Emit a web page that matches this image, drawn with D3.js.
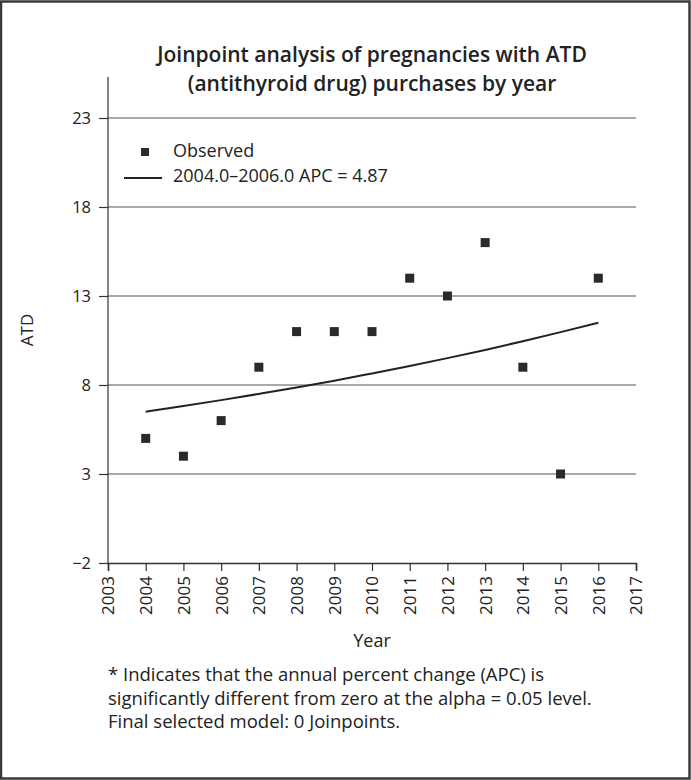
<!DOCTYPE html>
<html><head><meta charset="utf-8">
<script src="https://cdn.jsdelivr.net/npm/d3@7"></script>
<style>
html,body{margin:0;padding:0;background:#fff;}
svg{display:block;}
text{font-family:"Open Sans",sans-serif;fill:#222;}
</style></head>
<body>
<script>
const years = [2004,2005,2006,2007,2008,2009,2010,2011,2012,2013,2014,2015,2016];
const observed = [5,4,6,9,11,11,11,14,13,16,9,3,14];
const fitted = [6.5,6.82,7.15,7.5,7.86,8.24,8.65,9.07,9.51,9.97,10.46,10.97,11.5];
const xTicks = [2003,2004,2005,2006,2007,2008,2009,2010,2011,2012,2013,2014,2015,2016,2017];
const yTicks = [-2,3,8,13,18,23];
const titleLines = ["Joinpoint analysis of pregnancies with ATD","(antithyroid drug) purchases by year"];
const legendLabels = ["Observed","2004.0\u20132006.0 APC = 4.87"];
const footLines = ["* Indicates that the annual percent change (APC) is","significantly different from zero at the alpha = 0.05 level.","Final selected model: 0 Joinpoints."];

const W=691,H=780;
const svg=d3.select("body").append("svg").attr("width",W).attr("height",H);
svg.append("rect").attr("x",1).attr("y",1.5).attr("width",W-2.5).attr("height",H-3).attr("fill","#fff").attr("stroke","#3a3a3a").attr("stroke-width",2.5);

const x=d3.scaleLinear().domain([2003,2017]).range([108,636]);
const y=d3.scaleLinear().domain([-2,23]).range([563,118]);
const yTop=y(25.3);

// gridlines
svg.append("g").selectAll("line").data(yTicks.filter(d=>d>-2)).join("line")
 .attr("x1",x(2003)).attr("x2",x(2017)).attr("y1",d=>y(d)).attr("y2",d=>y(d))
 .attr("stroke","#8c8c8c").attr("stroke-width",1.4);

// y axis
const ya=svg.append("g").attr("transform",`translate(${x(2003)},0)`)
 .call(d3.axisLeft(y).tickValues(yTicks).tickSize(9).tickPadding(8).tickFormat(d=>d<0?"\u2212"+Math.abs(d):d));
ya.select(".domain").remove();
ya.selectAll("line").attr("stroke","#333").attr("stroke-width",1.2);
ya.selectAll("text").style("font-size","16.5px").attr("fill","#333");
svg.append("line").attr("x1",x(2003)).attr("x2",x(2003)).attr("y1",yTop).attr("y2",y(-2)).attr("stroke","#333").attr("stroke-width",1.2);

// x axis
const xa=svg.append("g").attr("transform",`translate(0,${y(-2)})`)
 .call(d3.axisBottom(x).tickValues(xTicks).tickSize(8).tickFormat(d3.format("d")));
xa.select(".domain").attr("stroke","#333").attr("stroke-width",1.6);
xa.selectAll("line").attr("stroke","#333").attr("stroke-width",1.2);
xa.selectAll("text").style("font-size","17px").attr("fill","#333")
 .attr("transform","rotate(-90)").attr("text-anchor","end").attr("x",-13).attr("y",0).attr("dy","0.35em");

// fitted line
svg.append("path").datum(years.map((d,i)=>[d,fitted[i]]))
 .attr("d",d3.line().x(d=>x(d[0])).y(d=>y(d[1])).curve(d3.curveMonotoneX))
 .attr("fill","none").attr("stroke","#222").attr("stroke-width",2);

// observed squares
const s=9;
svg.append("g").selectAll("rect").data(years.map((d,i)=>[d,observed[i]])).join("rect")
 .attr("x",d=>x(d[0])-s/2).attr("y",d=>y(d[1])-s/2).attr("width",s).attr("height",s).attr("fill","#2a2a2a");

// title
svg.append("text").attr("x",372).attr("y",62).attr("text-anchor","middle")
 .style("font-size","21px").style("font-weight","600")
 .selectAll("tspan").data(titleLines).join("tspan").attr("x",372).attr("dy",(d,i)=>i?29:0).text(d=>d);

// legend
svg.append("rect").attr("x",141).attr("y",148).attr("width",8).attr("height",8).attr("fill","#2a2a2a");
svg.append("text").attr("x",173).attr("y",151).attr("dy","0.35em").style("font-size","18px").text(legendLabels[0]);
svg.append("line").attr("x1",124).attr("x2",162).attr("y1",178).attr("y2",178).attr("stroke","#222").attr("stroke-width",2);
svg.append("text").attr("x",173).attr("y",176).attr("dy","0.35em").style("font-size","18px").text(legendLabels[1]);

// axis titles
svg.append("text").attr("x",372).attr("y",641).attr("dy","0.35em").attr("text-anchor","middle").style("font-size","18px").text("Year");
svg.append("text").attr("transform","translate(27,330) rotate(-90)").attr("dy","0.35em").attr("text-anchor","middle").style("font-size","17px").text("ATD");

// footnote
svg.append("text").attr("x",108).attr("y",681).style("font-size","18.5px")
 .selectAll("tspan").data(footLines).join("tspan").attr("x",108).attr("dy",(d,i)=>i?23.5:0).text(d=>d);
</script>
</body></html>
